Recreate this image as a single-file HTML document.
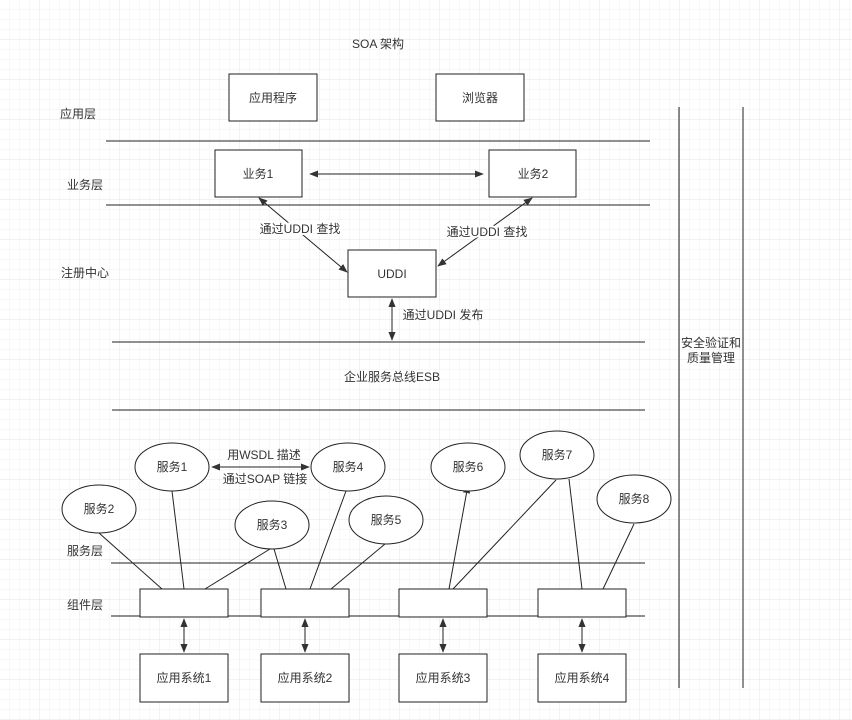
<!DOCTYPE html>
<html><head><meta charset="utf-8"><style>
html,body{margin:0;padding:0;background:#fff;}
svg{display:block;}
text{font-family:"Liberation Sans","Noto Sans CJK SC",sans-serif;font-size:12px;fill:#333;}
</style></head><body>
<svg width="852" height="720" viewBox="0 0 852 720" xmlns="http://www.w3.org/2000/svg">
<defs>
<pattern id="g" width="10" height="10" patternUnits="userSpaceOnUse"><path d="M10 0V10H0" fill="none" stroke="#f0f0f0" stroke-width="1"/></pattern>
<pattern id="G" width="40" height="40" patternUnits="userSpaceOnUse"><rect width="40" height="40" fill="url(#g)"/><path d="M40 0V40H0" fill="none" stroke="#e4e4e4" stroke-width="1"/></pattern>
<marker id="a" viewBox="0 0 10 10" refX="9" refY="5" markerWidth="9" markerHeight="9" orient="auto-start-reverse"><path d="M0 1L10 5L0 9z" fill="#333"/></marker>
</defs>
<rect width="852" height="720" fill="url(#G)"/>
<g stroke="#222" stroke-width="1" fill="none">
<line x1="106" y1="141" x2="650" y2="141"/>
<line x1="106" y1="205" x2="650" y2="205"/>
<line x1="112" y1="342" x2="645" y2="342"/>
<line x1="112" y1="410" x2="645" y2="410"/>
<line x1="111" y1="563" x2="645" y2="563"/>
<line x1="111" y1="616" x2="645" y2="616"/>
<line x1="679" y1="107" x2="679" y2="688"/>
<line x1="743" y1="107" x2="743" y2="688"/>
</g>
<g stroke="#222" fill="#fff">
<rect x="229" y="74" width="88" height="47"/>
<rect x="436" y="74" width="88" height="47"/>
<rect x="215" y="150" width="87" height="47"/>
<rect x="489" y="150" width="87" height="47"/>
<rect x="348" y="250" width="88" height="47"/>
<rect x="140" y="589" width="88" height="28"/>
<rect x="261" y="589" width="88" height="28"/>
<rect x="399" y="589" width="88" height="28"/>
<rect x="538" y="589" width="88" height="28"/>
<rect x="140" y="654" width="88" height="48"/>
<rect x="261" y="654" width="88" height="48"/>
<rect x="399" y="654" width="88" height="48"/>
<rect x="538" y="654" width="88" height="48"/>
</g>
<g stroke="#222" stroke-width="1">
<line x1="99" y1="533" x2="162" y2="589"/>
<line x1="172" y1="491" x2="184" y2="589"/>
<line x1="270" y1="549" x2="205" y2="589"/>
<line x1="274" y1="549" x2="286" y2="589"/>
<line x1="346" y1="491" x2="310" y2="589"/>
<line x1="385" y1="544" x2="331" y2="589"/>
<line x1="449" y1="589" x2="468" y2="485" marker-end="url(#a)"/>
<line x1="556" y1="480" x2="453" y2="589"/>
<line x1="569" y1="479" x2="582" y2="589"/>
<line x1="634" y1="524" x2="603" y2="589"/>
<line x1="310" y1="174" x2="483" y2="174" marker-start="url(#a)" marker-end="url(#a)"/>
<line x1="259" y1="198" x2="347" y2="272" marker-start="url(#a)" marker-end="url(#a)"/>
<line x1="532" y1="198" x2="438" y2="266" marker-start="url(#a)" marker-end="url(#a)"/>
<line x1="392" y1="299" x2="392" y2="340" marker-start="url(#a)" marker-end="url(#a)"/>
<line x1="212" y1="467" x2="309" y2="467" marker-start="url(#a)" marker-end="url(#a)"/>
<line x1="184" y1="619" x2="184" y2="652" marker-start="url(#a)" marker-end="url(#a)"/>
<line x1="305" y1="619" x2="305" y2="652" marker-start="url(#a)" marker-end="url(#a)"/>
<line x1="443" y1="619" x2="443" y2="652" marker-start="url(#a)" marker-end="url(#a)"/>
<line x1="582" y1="619" x2="582" y2="652" marker-start="url(#a)" marker-end="url(#a)"/>
</g>
<g stroke="#222" fill="#fff">
<ellipse cx="172" cy="467" rx="37" ry="24"/>
<ellipse cx="348" cy="467" rx="37" ry="24"/>
<ellipse cx="99" cy="509" rx="37" ry="24"/>
<ellipse cx="272" cy="525" rx="37" ry="24"/>
<ellipse cx="386" cy="520" rx="37" ry="24"/>
<ellipse cx="468" cy="467" rx="37" ry="24"/>
<ellipse cx="557" cy="455" rx="37" ry="24"/>
<ellipse cx="634" cy="499" rx="37" ry="24"/>
</g>
<g text-anchor="middle">
<text x="378" y="48">SOA 架构</text>
<text x="273" y="102">应用程序</text>
<text x="480" y="102">浏览器</text>
<text x="258" y="178">业务1</text>
<text x="533" y="178">业务2</text>
<text x="392" y="278">UDDI</text>
<text x="300" y="233" style="paint-order:stroke" stroke="#fff" stroke-width="4">通过UDDI 查找</text>
<text x="487" y="236" style="paint-order:stroke" stroke="#fff" stroke-width="4">通过UDDI 查找</text>
<text x="443" y="319">通过UDDI 发布</text>
<text x="392" y="381">企业服务总线ESB</text>
<text x="711" y="347">安全验证和</text>
<text x="711" y="362">质量管理</text>
<text x="78" y="118">应用层</text>
<text x="85" y="189">业务层</text>
<text x="85" y="277">注册中心</text>
<text x="85" y="555">服务层</text>
<text x="85" y="609">组件层</text>
<text x="264" y="459">用WSDL 描述</text>
<text x="265" y="483">通过SOAP 链接</text>
<text x="172" y="471">服务1</text>
<text x="348" y="471">服务4</text>
<text x="99" y="513">服务2</text>
<text x="272" y="529">服务3</text>
<text x="386" y="524">服务5</text>
<text x="468" y="471">服务6</text>
<text x="557" y="459">服务7</text>
<text x="634" y="503">服务8</text>
<text x="184" y="682">应用系统1</text>
<text x="305" y="682">应用系统2</text>
<text x="443" y="682">应用系统3</text>
<text x="582" y="682">应用系统4</text>
</g>
</svg>
</body></html>
